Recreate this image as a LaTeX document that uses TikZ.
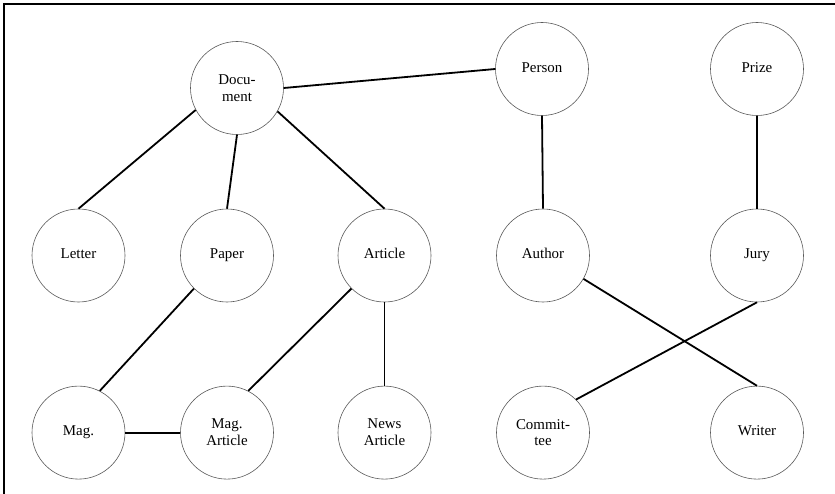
\documentclass[tikz,border=0pt]{standalone}
\usepackage{fontspec}
\setmainfont{Liberation Serif}
\usetikzlibrary{positioning}

\begin{document}
\begin{tikzpicture}[x=1bp, y=-1bp,
    n/.style={circle, draw=black!65, line width=0.6bp, minimum size=93bp, inner sep=0pt,
      align=center, font=\fontsize{15}{17}\selectfont},
    e/.style={line width=1.8bp}]
  \useasboundingbox (0,0) rectangle (835,494);
  \draw[line width=1.5bp] (4,494) -- (4,4) -- (835,4);

  % top row
  \node[n] (doc) at (237,88) {Docu-\\ment};
  \node[n] (person) at (542,69) {\strut Person};
  \node[n] (prize) at (757,69) {\strut Prize};

  % middle row
  \foreach \nm/\x/\lb in {letter/78.5/Letter, paper/227/Paper, article/384.5/Article,
      author/543/Author, jury/757/Jury}
  \node[n] (\nm) at (\x,255.5) {\strut\lb};

  % bottom row
  \foreach \nm/\up/\lb in {mag/letter/\strut Mag., magart/paper/{Mag.\\Article},
      news/article/{News\\Article}, comm/author/{Commit-\\tee}, writer/jury/\strut Writer}
  \node[n, below=83.5bp of \up] (\nm) {\lb};

  \foreach \a/\b in {doc.east/person.west, doc.208/letter.north, doc.south/paper.north,
      doc.330/article.north, paper.225/mag.63, article.225/magart.63,
      article.south/news.north, mag.east/magart.west, person.south/author.north,
      prize.south/jury.north, author.330/writer.north, jury.south/comm.45}
  \draw[e] (\a) -- (\b);
\end{tikzpicture}
\end{document}
